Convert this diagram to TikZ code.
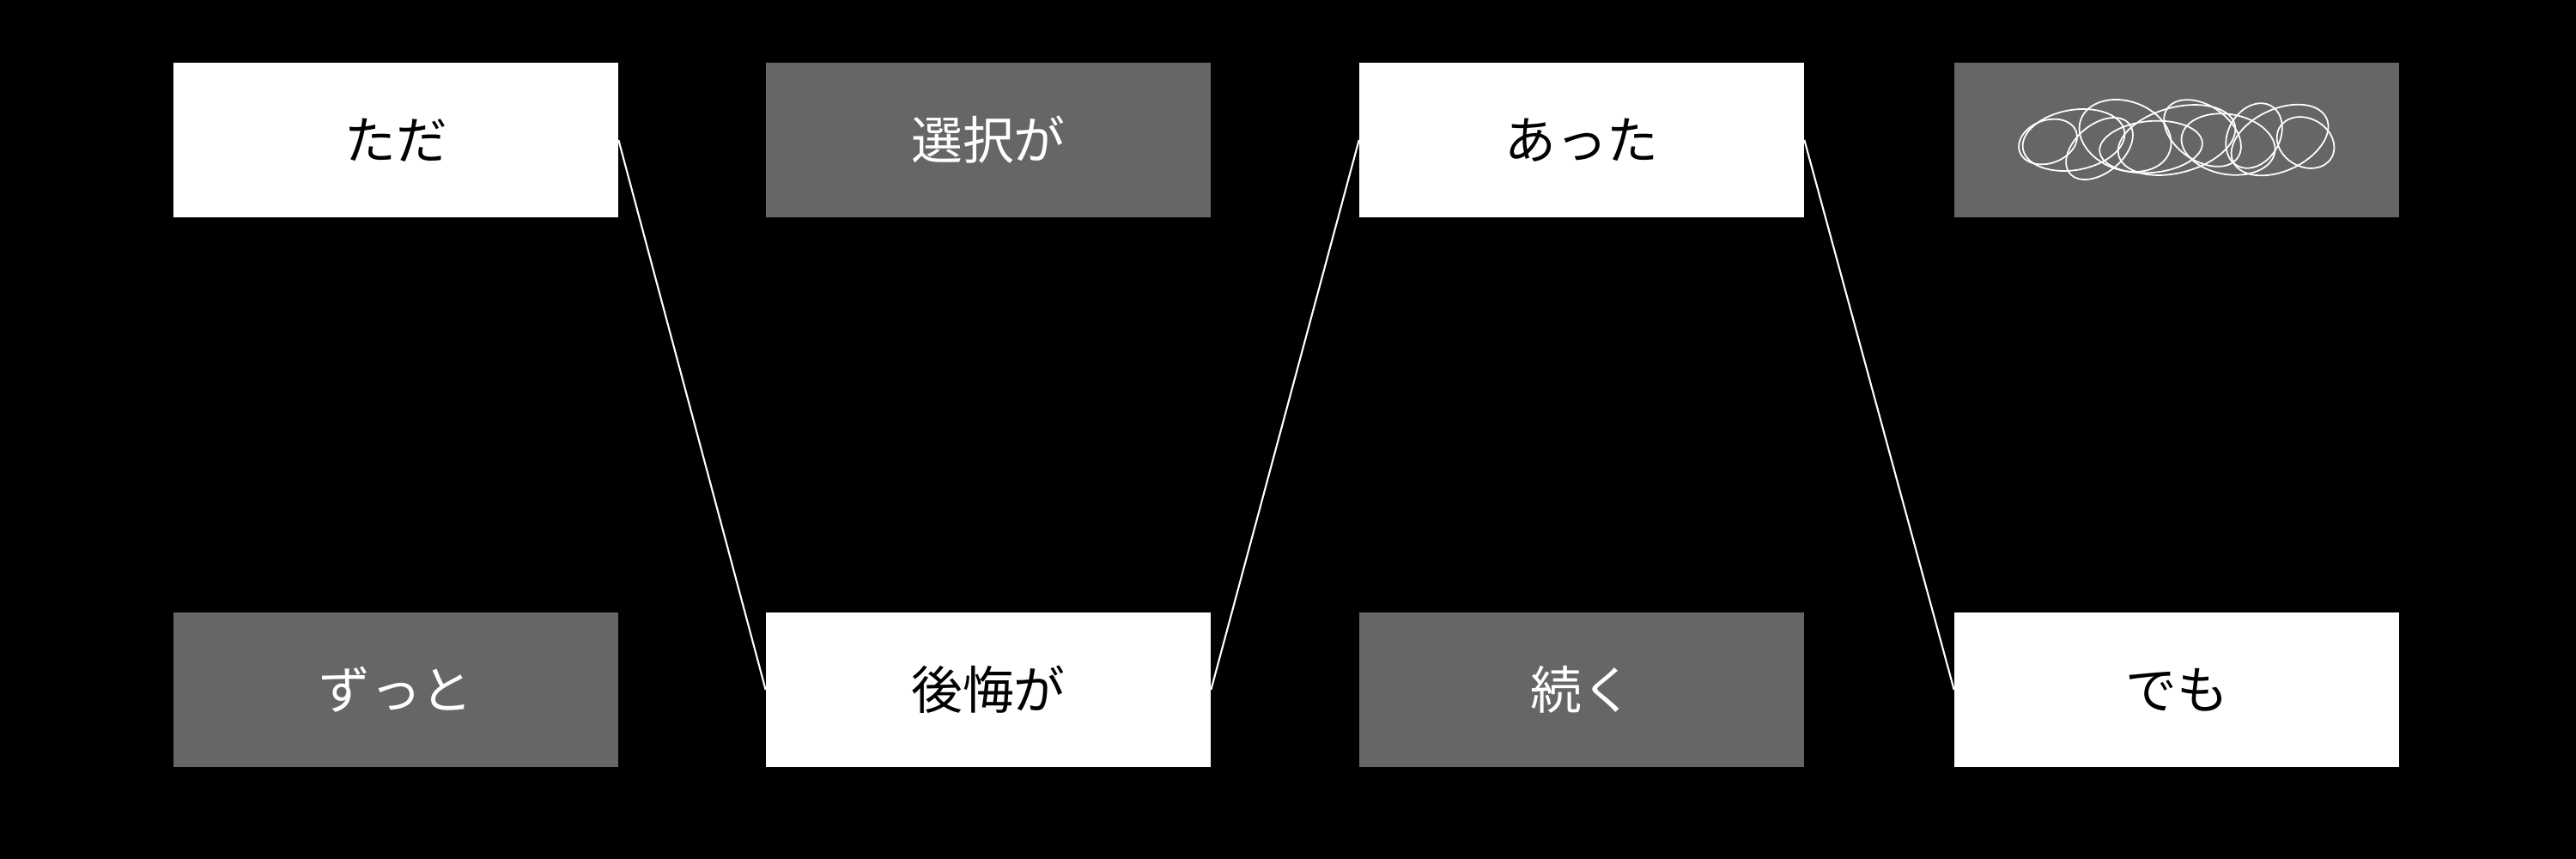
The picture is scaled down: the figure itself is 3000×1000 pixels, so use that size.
\documentclass[tikz,border=0pt]{standalone}
\usepackage{fontspec}
\newfontfamily\cjk{Noto Sans CJK JP}
\begin{document}
\begin{tikzpicture}[x=0.01cm,y=-0.01cm,
  wbox/.style={fill=white,draw=none,minimum width=5.17cm,minimum height=1.8cm,inner sep=0,font=\cjk\fontsize{17}{20}\selectfont,text=black},
  gbox/.style={wbox,fill=black!60,text=white},
  conn/.style={draw=white,line width=0.6pt}]
\fill[black] (0,0) rectangle (3000,1000);
\useasboundingbox (0,0) rectangle (3000,1000);
\node[wbox] (a) at (461,163) {ただ};
\node[gbox] (b) at (1151,163) {選択が};
\node[wbox] (c) at (1842,163) {あった};
\node[gbox] (d) at (2535,163) {};
\node[gbox] (e) at (461,803) {ずっと};
\node[wbox] (f) at (1151,803) {後悔が};
\node[gbox] (g) at (1842,803) {続く};
\node[wbox] (h) at (2535,803) {でも};
\draw[conn] (a.east) -- (f.west);
\draw[conn] (f.east) -- (c.west);
\draw[conn] (c.east) -- (h.west);
\begin{scope}[shift={(d.center)}]
\foreach \i/\xx/\yy/\rx/\ry/\r in {1/-120/0/60/35/10,2/-60/-5/55/40/-20,3/0/0/70/38/15,4/60/5/55/35/-10,5/120/0/60/36/25,6/-90/10/45/28/40,7/30/-8/50/32/-35,8/90/-5/40/30/60,9/-30/8/60/30/5,10/150/3/35/28/-30,11/-150/2/35/25/20}
  \draw[white,line width=0.5pt,rotate around={\r:(\xx,\yy)}] (\xx,\yy) ellipse [x radius=\rx,y radius=\ry];
\end{scope}
\end{tikzpicture}
\end{document}
